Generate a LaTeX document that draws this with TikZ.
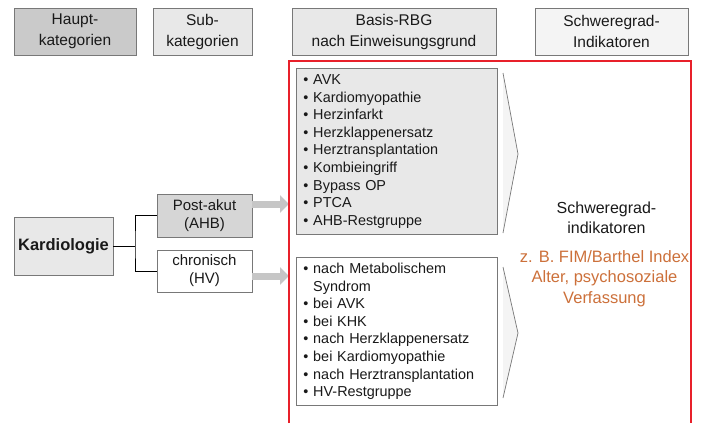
\documentclass[tikz,border=0pt]{standalone}
\usepackage{fontspec}
\setmainfont{Liberation Sans}
\usetikzlibrary{arrows.meta,shadows,positioning}
\definecolor{rbgred}{RGB}{232,32,42}
\definecolor{rbgorange}{RGB}{204,112,58}
\definecolor{darkfill}{RGB}{202,202,202}
\definecolor{midfill}{RGB}{214,214,214}
\definecolor{lightfill}{RGB}{232,232,232}
\definecolor{palefill}{RGB}{244,244,244}
\definecolor{boxline}{RGB}{120,120,120}

\begin{document}
\begin{tikzpicture}[x=1pt,y=-1pt,
  every node/.style={font=\fontsize{15.5}{21}\selectfont,text=black!90},
  headbox/.style={draw=boxline,line width=0.8pt,align=center,inner sep=0pt,
    minimum height=47pt,drop shadow={shadow xshift=0.9pt,shadow yshift=-0.9pt,fill=gray!80,opacity=1}},
  catbox/.style={draw=boxline,line width=0.8pt,align=center,inner sep=0pt,
    minimum width=95pt,minimum height=43pt,font=\fontsize{15}{18}\selectfont},
  listbox/.style={draw=boxline,line width=0.8pt,align=left,anchor=north west,
    text width=187pt,inner xsep=7pt,inner ysep=0pt,minimum height=166pt,
    font=\fontsize{14.4}{17.6}\selectfont},
  grayarrow/.style={draw=gray!45,line width=7pt,-{Triangle[width=17pt,length=9pt]}}]
\useasboundingbox (0,0) rectangle (704,423);

\node[headbox,fill=darkfill,minimum width=122pt] (haupt) at (75,31.5) {Haupt-\\kategorien};
\node[headbox,fill=lightfill,minimum width=99pt] (sub) at (202.5,31.5) {Sub-\\kategorien};
\node[headbox,fill=lightfill,minimum width=204pt] (basis) at (394,31.5) {Basis-RBG\\nach Einweisungsgrund};
\node[headbox,fill=palefill,minimum width=153pt] (indik) at (611.5,31.5) {Schweregrad-\\Indikatoren};

\node[draw=boxline,line width=0.8pt,fill=lightfill,minimum width=99pt,minimum height=58pt,inner sep=0pt,
  font=\fontsize{16.5}{20}\selectfont\bfseries] (kard) at (63.5,246) {Kardiologie};
\node[catbox,fill=midfill] (post) at (204.5,215.5) {Post-akut\\(AHB)};
\node[catbox,fill=white,minimum height=42pt] (chron) at (204.5,271) {chronisch\\(HV)};

\coordinate (fork) at (135,246);
\draw[black,line width=0.8pt] (kard.east) -- (fork);
\draw[black,line width=0.8pt] (post.west) -| (fork) |- (chron.west);

\node[listbox,fill=lightfill] (ahb) at (296,68) {%
  •~AVK\\
  •~Kardiomyopathie\\
  •~Herzinfarkt\\
  •~Herzklappenersatz\\
  •~Herztransplantation\\
  •~Kombieingriff\\
  •~Bypass OP\\
  •~PTCA\\
  •~AHB-Restgruppe};
\node[listbox,fill=white,minimum height=148pt] (hv) at (296,257) {%
  •~nach Metabolischem\\
  \phantom{•~}Syndrom\\
  •~bei AVK\\
  •~bei KHK\\
  •~nach Herzklappenersatz\\
  •~bei Kardiomyopathie\\
  •~nach Herztransplantation\\
  •~HV-Restgruppe};

\fill[palefill] (503,73) -- (518,154) -- (503,233) -- cycle;
\draw[boxline,line width=0.7pt] (503,73) -- (518,154) -- (503,233);
\fill[palefill] (503,267) -- (518,333) -- (503,398) -- cycle;
\draw[boxline,line width=0.7pt] (503,267) -- (518,333) -- (503,398);

\coordinate (frameL) at (289,61);
\draw[grayarrow] ([yshift=11.5pt]post.east) -- ([yshift=11.5pt]post.east -| frameL);
\draw[grayarrow] ([yshift=-5pt]chron.east) -- ([yshift=-5pt]chron.east -| frameL);

\draw[rbgred,line width=2.2pt] (289,423) -- (frameL) -- (691,61) -- (691,423);

\node[font=\fontsize{16}{20.5}\selectfont,align=center] (sgi) at (606.5,218) {Schweregrad-\\indikatoren};
\node[font=\fontsize{16.5}{20.5}\selectfont,align=center,text=rbgorange,below=9pt of sgi,xshift=-2pt]
  (bsp) {z. B. FIM/Barthel Index\\Alter, psychosoziale\\Verfassung};
\end{tikzpicture}
\end{document}
